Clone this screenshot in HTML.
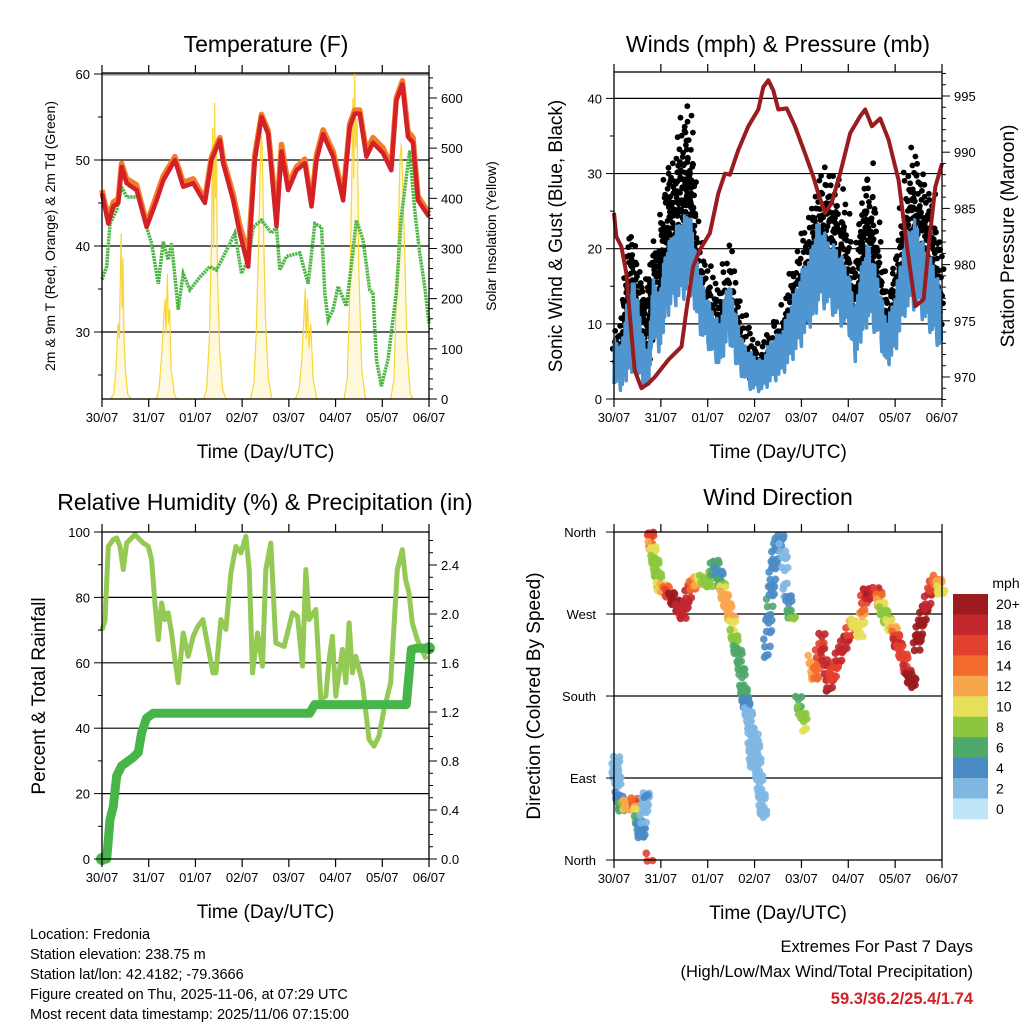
<!DOCTYPE html>
<html><head><meta charset="utf-8">
<style>
html,body{margin:0;padding:0;background:#fff;}
svg text{font-family:"Liberation Sans",Arial,sans-serif;fill:#000;}
</style></head>
<body>
<svg id="chart" width="1024" height="1024" viewBox="0 0 1024 1024" xmlns="http://www.w3.org/2000/svg">
<rect x="0" y="0" width="1024" height="1024" fill="#fff"/>
</svg>
<script>
// ---------- Data ----------
const dayLabels = ["30/07","31/07","01/07","02/07","03/07","04/07","05/07","06/07"];

// Temperature panel
const tTemp = [0,0.135,0.242,0.349,0.42,0.527,0.741,0.955,1.168,1.311,1.561,1.739,1.953,2.203,2.345,2.523,2.594,2.808,2.95,3.129,3.271,3.414,3.557,3.735,3.842,3.984,4.163,4.341,4.484,4.591,4.734,4.948,5.161,5.303,5.41,5.517,5.66,5.802,6.016,6.194,6.301,6.43,6.55,6.658,6.765,6.999];
const temp9 = [46.1,42.6,44.6,45,49.2,47.3,46.5,42.2,45.3,47.6,50,46.9,47.3,45,50,52.3,49.6,45.3,41.5,37.6,50,55,53,42.3,51,46.5,48.8,49.6,44.6,50,53,50.4,45.3,53.8,55.4,55.4,50.4,52,50.8,48.8,56.9,58.8,52.7,52,45.3,43.4];
const temp2 = [46.5,43.2,45.1,45.5,49.6,47.8,47.1,42.6,45.9,48.1,50.4,47.4,47.8,45.4,50.4,52.6,50.1,46,42.4,39,50.6,55.3,53.4,43.5,51.8,47.2,49.2,50.1,45,50.6,53.5,51,45.8,54.2,55.8,55.8,51,52.6,51.4,49.3,57.2,59.2,53.3,52.6,45.8,43.8];
const tDew = [0,0.1,0.171,0.314,0.42,0.527,0.777,0.955,1.062,1.205,1.311,1.418,1.49,1.632,1.739,1.882,2.096,2.31,2.452,2.666,2.844,2.987,3.129,3.236,3.414,3.628,3.735,3.806,3.949,4.234,4.413,4.555,4.698,4.769,4.84,4.948,5.054,5.232,5.375,5.446,5.589,5.731,5.802,5.874,5.98,6.123,6.301,6.408,6.586,6.693,6.8,6.907,6.999];
const dewpt = [36.1,37.6,42.6,44.2,46.9,45.7,45.7,42.2,40.3,35.6,40.5,38.4,40.3,32.6,36.8,34.9,36.4,37.6,37.2,39.5,41.5,36.8,38.4,42.2,43,41.5,42.2,37.2,38.8,39.2,35.6,42.6,42.2,34.5,31.4,32.6,35.3,33,39.5,43,40.7,34.9,34.5,26.8,23.7,26.8,34.5,43.4,51.1,44.2,39.2,35.3,31];
const tSol = [0.18,0.25,0.30,0.34,0.37,0.39,0.41,0.43,0.45,0.47,0.50,0.55,0.62,
 1.16,1.22,1.28,1.32,1.35,1.37,1.40,1.42,1.45,1.48,1.55,1.60,
 2.18,2.24,2.30,2.34,2.37,2.39,2.41,2.43,2.45,2.47,2.52,2.58,2.65,
 3.18,3.25,3.30,3.35,3.39,3.41,3.43,3.46,3.50,3.56,3.64,
 4.14,4.22,4.28,4.32,4.35,4.37,4.40,4.43,4.47,4.52,4.60,
 5.18,5.25,5.30,5.34,5.37,5.39,5.41,5.43,5.46,5.50,5.56,5.64,
 6.18,6.25,6.30,6.34,6.38,6.41,6.44,6.48,6.53,6.60,6.66];
const solar = [0,10,60,150,120,230,330,180,280,120,60,10,0,
 0,20,90,160,200,130,250,150,180,60,10,0,
 0,20,120,300,540,300,590,400,520,250,100,20,0,
 0,30,130,300,480,536,500,330,160,40,0,
 0,20,80,160,220,120,200,100,150,40,0,
 0,40,200,400,600,440,652,500,560,250,60,0,
 0,40,200,320,480,509,420,300,100,10,0];

// Winds panel
const tWind = [0,0.16,0.3,0.44,0.58,0.73,0.83,0.98,1.08,1.23,1.44,1.62,1.72,1.87,2.08,2.26,2.44,2.58,2.72,2.94,3.15,3.36,3.58,3.79,4.0,4.22,4.36,4.58,4.79,5.0,5.15,5.29,5.43,5.64,5.82,6.0,6.21,6.43,6.64,6.82,7.0];
const windLo = [2,1,3,4,2,1,8,6,10,12,13,14,12,8,6,4,8,5,3,1,1,2,3,5,7,10,12,12,10,9,5,8,10,8,4,6,11,12,10,8,6];
const windHi = [8,7,14,16,10,5,16,14,19,22,24,25,20,16,12,10,16,12,8,6,5,8,9,13,17,20,24,21,20,17,12,18,21,16,10,14,22,24,20,18,14];
const gustLo = [5,6,8,10,6,5,12,12,14,18,20,22,16,12,10,8,12,8,6,3,3,4,6,8,10,14,16,17,15,12,9,14,16,12,8,10,16,18,15,12,10];
const gustHi = [9,10,22,22,15,17,22,21,30,32,38,40,24,20,17,14,22,15,12,9,7,11,12,18,22,26,30,32,30,25,16,28,33,24,14,20,30,35,30,27,20];
const tPres = [0,0.05,0.157,0.264,0.335,0.442,0.585,0.727,0.87,1.155,1.44,1.547,1.689,1.832,2.046,2.224,2.367,2.474,2.652,2.866,3.08,3.186,3.293,3.4,3.507,3.685,3.863,4.077,4.255,4.362,4.505,4.647,4.826,5.04,5.254,5.361,5.503,5.682,5.86,6.074,6.252,6.43,6.608,6.715,6.858,6.999];
const pres = [984.6,982.5,981.6,979.2,975.6,970.6,969,969.4,970,971.5,972.7,976,979.8,981.3,982.8,986.3,988.1,988,990.2,992.3,993.8,995.8,996.4,995.5,993.8,993.9,992.3,989.9,987.8,986.3,984.6,985.5,988.1,991.7,993.2,993.8,992.3,993,991.1,987.5,981.6,976.3,976.9,981.6,986.9,989];

// Relative humidity / precip panel
const tRH = [0,0.064,0.135,0.242,0.314,0.385,0.456,0.527,0.705,0.884,0.991,1.062,1.133,1.133,1.205,1.276,1.347,1.418,1.489,1.561,1.632,1.739,1.846,1.953,2.053,2.16,2.267,2.374,2.438,2.545,2.652,2.759,2.866,2.973,3.08,3.151,3.222,3.329,3.436,3.507,3.614,3.72,3.899,4.077,4.184,4.291,4.362,4.434,4.576,4.684,4.79,4.861,4.932,5.004,5.146,5.218,5.289,5.36,5.432,5.574,5.716,5.823,5.93,6.037,6.18,6.322,6.429,6.5,6.571,6.643,6.75,6.943];
const rh = [70,73,95.6,97.7,98.2,95.6,88.5,96.6,99.2,96.6,95.6,91.5,78.3,78.3,67.1,78.3,73.2,75.3,69.1,61,53.9,69.1,62,68.1,71.2,73.2,65,56.9,56.9,73.2,70.2,87.5,95.6,93.6,98.7,88.5,56.9,69.1,59,88.5,96.6,66.1,65,75.3,74.2,59,88.5,73.2,76.3,48.8,49.8,61,68.1,49.8,64.1,53.9,72.2,56.9,62,53.9,36.6,34.5,37.6,45.7,53.9,88.5,94.6,85.4,81.4,72.2,67.1,61];
const tPcp = [0,0.1,0.171,0.242,0.314,0.42,0.67,0.777,0.848,0.955,1.098,4.446,4.553,6.514,6.621,6.728,6.999];
const precip = [0,0,0.32,0.43,0.68,0.76,0.83,0.87,1.03,1.15,1.19,1.19,1.26,1.26,1.71,1.72,1.72];

// Wind direction panel
const tDir = [0.014,0.05,0.085,0.157,0.299,0.371,0.442,0.513,0.584,0.656,0.692,0.763,
 0.763,0.834,0.905,0.976,1.083,1.226,1.368,1.475,1.618,1.725,1.867,2.045,2.152,2.259,2.33,2.402,2.509,2.58,
 2.687,2.758,2.794,2.829,2.901,2.936,2.972,3.008,3.043,3.079,3.15,3.186,3.257,3.329,3.4,3.471,3.578,3.685,3.792,3.935,4.077,4.22,4.291,4.434,4.577,4.683,4.826,4.968,5.111,5.254,5.361,5.468,5.61,5.681,5.753,5.86,6.003,6.038,6.181,6.288,6.395];
const dirDeg = [88,110,73,58,62,58,66,44,25,58,73,3,
 357,337,319,300,298,289,278,269,297,304,309,304,326,311,293,282,264,238,
 220,187,176,168,154,124,102,135,117,95,69,47,227,282,319,344,355,293,264,176,146,220,198,245,190,205,227,242,263,249,295,289,297,282,271,260,249,238,223,201,194];
const dirSpd = [3,2,4,6,14,12,16,6,5,3,4,16,
 18,10,8,10,14,20,20,19,18,14,10,9,7,5,12,13,12,8,
 6,6,6,4,2,3,2,2,3,3,2,3,5,6,5,4,4,3,8,7,10,12,14,18,20,16,19,20,11,10,18,20,19,12,8,10,14,19,16,20,20];
const tDir2 = [6.466,6.537,6.644,6.786,6.893,6.986];
const dirDeg2 = [234,256,275,300,308,293];
const dirSpd2 = [20,20,20,17,14,10];

const cbLabels = ["20+","18","16","14","12","10","8","6","4","2","0"];
const cbColors = ["#9b1b1e","#c1272d","#e2412e","#f26a2e","#f8a64c","#e6df58","#8cc63f","#4ea96a","#4a8bc6","#80b7e2","#bfe6f8"];

// ---------- Helpers ----------
const NS = "http://www.w3.org/2000/svg";
const svg = document.getElementById('chart');
function mk(tag, attrs, parent){
  const e = document.createElementNS(NS, tag);
  for (const k in attrs) e.setAttribute(k, attrs[k]);
  (parent||svg).appendChild(e);
  return e;
}
function txt(s, x, y, size, anchor, parent, extra){
  const e = mk('text', {x:x, y:y, 'font-size':size, 'text-anchor':anchor||'middle'}, parent);
  if (extra) for (const k in extra) e.setAttribute(k, extra[k]);
  e.textContent = s;
  return e;
}
function group(name){
  const g = mk('g', {});
  
  
  return g;
}
function pathFrom(ts, vs, fx, fy){
  let d = '';
  for (let i=0;i<ts.length;i++) d += (i?'L':'M') + fx(ts[i]).toFixed(1) + ',' + fy(vs[i]).toFixed(1);
  return d;
}

function xAxis(g, x0, x1, yb, yt){
  const fx = t => x0 + t*(x1-x0)/7;
  for (let i=0;i<dayLabels.length;i++){
    const x = fx(i);
    mk('line',{x1:x,y1:yb,x2:x,y2:yb+8,stroke:'#000','stroke-width':1.2},g);
    mk('line',{x1:x,y1:yt,x2:x,y2:yt-8,stroke:'#000','stroke-width':1.2},g);
    const l = txt(dayLabels[i], x, yb+23, 13, 'middle', g);
    
    
  }
  const tt = txt('Time (Day/UTC)', (x0+x1)/2, yb+59, 19, 'middle', g);
  
  
}
function yTicks(g, side, xEdge, vals, fy, len, labels, fmt){
  for (const v of vals){
    const y = fy(v);
    const dx = side==='left' ? -len : len;
    mk('line',{x1:xEdge,y1:y,x2:xEdge+dx,y2:y,stroke:'#000','stroke-width':1},g);
    if (labels){
      const l = txt(fmt(v), side==='left'? xEdge-12 : xEdge+12, y+5, 13, side==='left'?'end':'start', g);
      
      
    }
  }
}
function vTitle(g, s, x, y, size, name){
  const e = txt(s, x, y, size, 'middle', g, {transform:'rotate(-90 '+x+' '+y+')'});
  
  
}
function panelTitle(g, s, x, y){
  const e = txt(s, x, y, 23, 'middle', g);
  
  
}
function range(a,b,s){const r=[];for(let v=a;v<=b+1e-9;v+=s)r.push(+v.toFixed(4));return r;}
const PAT = [0,1,0.3,0.8,0.1,0.95,0.5,0.2,0.7,0.4,0.9,0.15];

// ---------- Panel 1: Temperature ----------
(function(){
  const g = group('temperature-panel');
  const x0=102,x1=429,yt=73,yb=399;
  const fx = t => x0 + t*(x1-x0)/7;
  const fyT = v => 74 + (60-v)*8.6;
  const fyS = v => 399 - v*0.5017;
  panelTitle(g,'Temperature (F)',266,52);
  for (const v of [30,40,50]) mk('line',{x1:x0,y1:fyT(v),x2:x1,y2:fyT(v),stroke:'#000','stroke-width':1.2},g);
  mk('line',{x1:x0,y1:fyT(60),x2:x1,y2:fyT(60),stroke:'#888','stroke-width':3},g);
  const sd = pathFrom(tSol, solar, fx, fyS);
  const sf = mk('path',{d:sd+'Z',fill:'#fbe88a','fill-opacity':0.3,stroke:'none'},g);
  
  
  const sl = mk('path',{d:sd,fill:'none',stroke:'#f7d63a','stroke-width':1.2},g);
  
  
  const dl = mk('path',{d:pathFrom(tDew,dewpt,fx,fyT),fill:'none',stroke:'#4bb543','stroke-width':3.5,'stroke-dasharray':'2.2 0.8'},g);
  
  
  const ol = mk('path',{d:pathFrom(tTemp,temp2,fx,fyT),fill:'none',stroke:'#f47b28','stroke-width':5.5,'stroke-linejoin':'round'},g);
  
  
  const rl = mk('path',{d:pathFrom(tTemp,temp9,fx,fyT),fill:'none',stroke:'#d42027','stroke-width':4.5,'stroke-linejoin':'round'},g);
  
  
  mk('rect',{x:x0,y:yt,width:x1-x0,height:yb-yt,fill:'none',stroke:'#000','stroke-width':1.3},g);
  yTicks(g,'left',x0,[30,40,50,60],fyT,8,true,v=>String(v));
  yTicks(g,'left',x0,range(25,55,10),fyT,4,false);
  yTicks(g,'right',x1,range(0,600,100),fyS,8,true,v=>String(v));
  yTicks(g,'right',x1,range(20,640,20).filter(v=>v%100),fyS,4,false);
  xAxis(g,x0,x1,yb,yt);
  vTitle(g,'2m & 9m T (Red, Orange) & 2m Td (Green)',55,236,14,'left-y-axis-title');
  vTitle(g,'Solar Insolation (Yellow)',496,236,14,'right-y-axis-title');
})();

// ---------- Panel 2: Winds ----------
(function(){
  const g = group('winds-panel');
  const x0=614,x1=942,yt=72,yb=399;
  const fx = t => x0 + t*(x1-x0)/7;
  const fyW = v => 399 - v*7.515;
  const fyP = v => 96 + (995-v)*11.24;
  panelTitle(g,'Winds (mph) & Pressure (mb)',778,52);
  for (const v of [10,20,30,40]) mk('line',{x1:x0,y1:fyW(v),x2:x1,y2:fyW(v),stroke:'#000','stroke-width':1.2},g);
  const gg = mk('g',{},g);
  
  
  let k=0;
  for (let i=0;i<tWind.length-1;i++){
    for (let s=0;s<6;s++){
      const f=s/6;
      const t=tWind[i]+(tWind[i+1]-tWind[i])*f;
      const lo=gustLo[i]+(gustLo[i+1]-gustLo[i])*f;
      const hi=gustHi[i]+(gustHi[i+1]-gustHi[i])*f;
      const top = lo + (hi-lo)*(0.55+0.45*PAT[(i*6+s)%PAT.length]);
      for (let v=lo; v<=top; v+=1.3){
        k++;
        const jx=(PAT[k%PAT.length]-0.5)*6;
        const jy=(PAT[(k*5)%PAT.length]-0.5)*1.0;
        mk('circle',{cx:(fx(t)+jx).toFixed(1),cy:fyW(v+jy).toFixed(1),r:2.9,fill:'#000'},gg);
      }
    }
  }
  // jagged wind trace
  let d='';
  let n=0;
  for (let i=0;i<tWind.length-1;i++){
    for (let s=0;s<14;s++){
      const f=s/14;
      const t=tWind[i]+(tWind[i+1]-tWind[i])*f;
      const lo=windLo[i]+(windLo[i+1]-windLo[i])*f;
      const hi=windHi[i]+(windHi[i+1]-windHi[i])*f;
      const v = lo + (hi-lo)*PAT[n%PAT.length];
      d += (n?'L':'M') + fx(t).toFixed(1) + ',' + fyW(v).toFixed(1);
      n++;
    }
  }
  const wb = mk('path',{d:d,fill:'none',stroke:'#4f96d0','stroke-width':3.5,'stroke-linejoin':'round'},g);
  
  
  const pl = mk('path',{d:pathFrom(tPres,pres,fx,fyP),fill:'none',stroke:'#9b1c1f','stroke-width':4,'stroke-linejoin':'round'},g);
  
  
  mk('rect',{x:x0,y:yt,width:x1-x0,height:yb-yt,fill:'none',stroke:'#000','stroke-width':1.3},g);
  yTicks(g,'left',x0,[0,10,20,30,40],fyW,8,true,v=>String(v));
  yTicks(g,'left',x0,[5,15,25,35],fyW,4,false);
  yTicks(g,'right',x1,[970,975,980,985,990,995],fyP,8,true,v=>String(v));
  yTicks(g,'right',x1,range(968,997,1).filter(v=>v%5),fyP,4,false);
  xAxis(g,x0,x1,yb,yt);
  vTitle(g,'Sonic Wind & Gust (Blue, Black)',562,236,19,'left-y-axis-title');
  vTitle(g,'Station Pressure (Maroon)',1014,236,19,'right-y-axis-title');
})();

// ---------- Panel 3: RH & Precip ----------
(function(){
  const g = group('humidity-precip-panel');
  const x0=102,x1=429,yt=532,yb=859;
  const fx = t => x0 + t*(x1-x0)/7;
  const fyR = v => 859 - v*3.27;
  const fyP = v => 859 - v*122.5;
  panelTitle(g,'Relative Humidity (%) & Precipitation (in)',265,510);
  for (const v of [20,40,60,80]) mk('line',{x1:x0,y1:fyR(v),x2:x1,y2:fyR(v),stroke:'#000','stroke-width':1.2},g);
  const rl = mk('path',{d:pathFrom(tRH,rh,fx,fyR),fill:'none',stroke:'#93c954','stroke-width':5,'stroke-linejoin':'round'},g);
  
  
  const pl = mk('path',{d:pathFrom(tPcp,precip,fx,fyP),fill:'none',stroke:'#47b549','stroke-width':9,'stroke-linejoin':'round','stroke-linecap':'round'},g);
  
  
  mk('circle',{cx:fx(tPcp[0]),cy:fyP(precip[0]),r:6,fill:'#47b549'},g);
  mk('circle',{cx:fx(tPcp[tPcp.length-1]),cy:fyP(precip[precip.length-1]),r:6,fill:'#47b549'},g);
  mk('rect',{x:x0,y:yt,width:x1-x0,height:yb-yt,fill:'none',stroke:'#000','stroke-width':1.3},g);
  yTicks(g,'left',x0,[0,20,40,60,80,100],fyR,8,true,v=>String(v));
  yTicks(g,'left',x0,[10,30,50,70,90],fyR,4,false);
  yTicks(g,'right',x1,range(0,2.4,0.4),fyP,8,true,v=>v.toFixed(1));
  yTicks(g,'right',x1,range(0.1,2.6,0.1).filter(v=>Math.abs(v/0.4-Math.round(v/0.4))>0.01),fyP,4,false);
  xAxis(g,x0,x1,yb,yt);
  vTitle(g,'Percent & Total Rainfall',45,696,19,'left-y-axis-title');
})();

// ---------- Panel 4: Wind direction ----------
(function(){
  const g = group('wind-direction-panel');
  const x0=614,x1=942,yt=532,yb=860;
  const fx = t => x0 + t*(x1-x0)/7;
  const fyD = v => 860 - v*0.911;
  const col = s => cbColors[10-Math.max(0,Math.min(10,Math.floor(s/2)))];
  panelTitle(g,'Wind Direction',778,505);
  for (const v of [90,180,270]) mk('line',{x1:x0,y1:fyD(v),x2:x1,y2:fyD(v),stroke:'#000','stroke-width':1.2},g);
  const dg = mk('g',{},g);
  
  
  let q=0;
  function drawSeries(ts, ds, ss){
    for (let i=0;i<ts.length;i++){
      const steps = (i<ts.length-1 && Math.abs(ds[i+1]-ds[i])<70) ? 5 : 1;
      for (let s=0;s<steps;s++){
        const f=s/steps;
        const t = ts[i] + (i<ts.length-1 ? (ts[i+1]-ts[i])*f : 0);
        const dv = ds[i] + (i<ts.length-1 ? (ds[i+1]-ds[i])*f : 0);
        const sv = ss[i] + (i<ts.length-1 ? (ss[i+1]-ss[i])*f : 0);
        for (let c=0;c<3;c++){
          q++;
          const jx=(PAT[q%PAT.length]-0.5)*7;
          const jy=(PAT[(q*7)%PAT.length]-0.5)*8;
          mk('circle',{cx:(fx(t)+jx).toFixed(1),cy:(fyD(dv)+jy).toFixed(1),r:3.8,fill:col(sv),'fill-opacity':0.9},dg);
        }
      }
    }
  }
  drawSeries(tDir, dirDeg, dirSpd);
  drawSeries(tDir2, dirDeg2, dirSpd2);
  mk('rect',{x:x0,y:yt,width:x1-x0,height:yb-yt,fill:'none',stroke:'#000','stroke-width':1.3},g);
  const dl = ['North','East','South','West','North'];
  [0,90,180,270,360].forEach((v,i)=>{
    mk('line',{x1:x0,y1:fyD(v),x2:x0-8,y2:fyD(v),stroke:'#000','stroke-width':1},g);
    const l = txt(dl[i], x0-18, fyD(v)+5, 13, 'end', g);
    
    
  });
  xAxis(g,x0,x1,yb,yt);
  vTitle(g,'Direction (Colored By Speed)',540,696,19,'left-y-axis-title');
  const cb = mk('g',{},g);
  
  
  const h = 225/11;
  for (let i=0;i<11;i++){
    mk('rect',{x:953,y:(594+i*h).toFixed(1),width:35,height:(h+0.3).toFixed(1),fill:cbColors[i]},cb);
    const l = txt(cbLabels[i], 996, 594+i*h+h/2+5, 14, 'start', cb);
    
    
  }
  const u = txt('mph', 1006, 588, 14, 'middle', cb);
  
  
})();

// ---------- Footer ----------
(function(){
  const g = group('station-info');
  const lines = ['Location: Fredonia','Station elevation: 238.75 m','Station lat/lon: 42.4182; -79.3666','Figure created on Thu, 2025-11-06, at 07:29 UTC','Most recent data timestamp: 2025/11/06 07:15:00'];
  lines.forEach((s,i)=>{
    const l = txt(s, 30, 939+i*20, 14.5, 'start', g);
    
    
  });
  const g2 = group('extremes-summary');
  txt('Extremes For Past 7 Days', 973, 952, 16.5, 'end', g2);
  txt('(High/Low/Max Wind/Total Precipitation)', 973, 977, 16.5, 'end', g2);
  const v = txt('59.3/36.2/25.4/1.74', 973, 1004, 16.5, 'end', g2, {'font-weight':'bold'});
  v.setAttribute('style','fill:#d42027');
  
  
})();
</script>
</body></html>
